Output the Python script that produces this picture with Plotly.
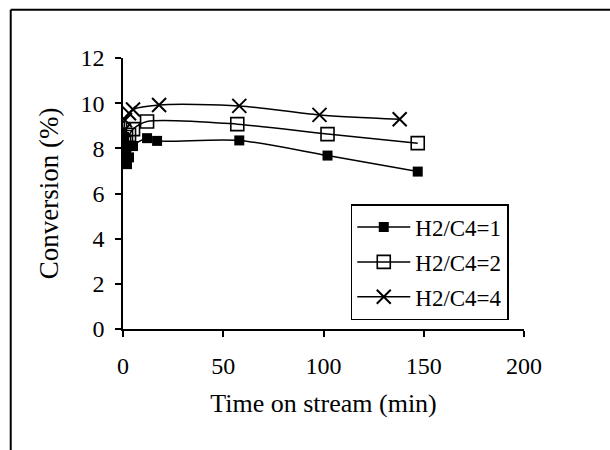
import plotly.graph_objects as go

# Time on stream (min) and conversion (%) for each H2/C4 ratio
t_ratio1 = [0.5, 1.0, 1.5, 2.0, 3.0, 5.0, 12.0, 17.0, 58.0, 102.0, 147.0]
conv_ratio1 = [8.5, 8.1, 7.7, 7.3, 7.6, 8.1, 8.45, 8.33, 8.35, 7.68, 6.97]

t_ratio2 = [0.5, 1.5, 3.0, 5.0, 12.0, 57.0, 102.0, 147.0]
conv_ratio2 = [8.3, 8.5, 8.6, 8.85, 9.19, 9.07, 8.63, 8.23]

t_ratio4 = [0.5, 1.0, 3.0, 5.0, 18.0, 58.0, 98.0, 138.0]
conv_ratio4 = [8.8, 9.25, 9.55, 9.72, 9.92, 9.88, 9.48, 9.29]

series_names = ["H2/C4=1", "H2/C4=2", "H2/C4=4"]
x_ticks = [0, 50, 100, 150, 200]
y_ticks = [0, 2, 4, 6, 8, 10, 12]

FONT = "Liberation Serif, Times New Roman, serif"

fig = go.Figure()

marker_styles = [
    dict(symbol="square", size=10, color="black"),
    dict(symbol="square-open", size=13, color="black", line=dict(width=1.6, color="black")),
    dict(symbol="x-thin-open", size=14, color="black", line=dict(width=2, color="black")),
]
data = [(t_ratio1, conv_ratio1), (t_ratio2, conv_ratio2), (t_ratio4, conv_ratio4)]

for i, ((tx, cy), name, mk) in enumerate(zip(data, series_names, marker_styles)):
    fig.add_trace(go.Scatter(
        x=tx, y=cy, name=name, mode="lines+markers",
        line=dict(color="black", width=1.5, shape="spline", smoothing=0.8),
        marker=mk, legendgroup=f"g{i}",
    ))

# Outer frame (left and top edges)
fig.add_shape(type="line", xref="paper", yref="paper",
              x0=-0.28, x1=-0.28, y0=1.178, y1=-0.45,
              line=dict(color="black", width=2))
fig.add_shape(type="line", xref="paper", yref="paper",
              x0=-0.28, x1=1.22, y0=1.178, y1=1.178,
              line=dict(color="black", width=2))

fig.update_layout(
    width=610, height=450,
    margin=dict(l=123, r=86, t=58, b=121),
    paper_bgcolor="white", plot_bgcolor="white",
    font=dict(family=FONT, size=23, color="black"),
    showlegend=True,
    legend=dict(
        x=0.568, y=0.461, xanchor="left", yanchor="top",
        bordercolor="black", borderwidth=1.5, bgcolor="white",
        font=dict(family=FONT, size=23, color="black"),
        traceorder="grouped", tracegroupgap=2,
        itemwidth=53,
    ),
)

fig.update_xaxes(
    range=[0, 200], tickvals=x_ticks, showgrid=False, zeroline=False,
    showline=True, linecolor="black", linewidth=1.5,
    ticks="outside", ticklen=6, tickwidth=1.5, tickcolor="black",
    ticklabelstandoff=8,
    title=dict(text="Time on stream (min)", standoff=16,
               font=dict(family=FONT, size=26)),
    tickfont=dict(family=FONT, size=24),
)
fig.update_yaxes(
    range=[0, 12], tickvals=y_ticks, showgrid=False, zeroline=False,
    showline=True, linecolor="black", linewidth=1.5,
    ticks="outside", ticklen=6, tickwidth=1.5, tickcolor="black",
    ticklabelstandoff=6,
    title=dict(text="Conversion (%)", standoff=14,
               font=dict(family=FONT, size=27)),
    tickfont=dict(family=FONT, size=24),
)

fig.write_html("out.html")
